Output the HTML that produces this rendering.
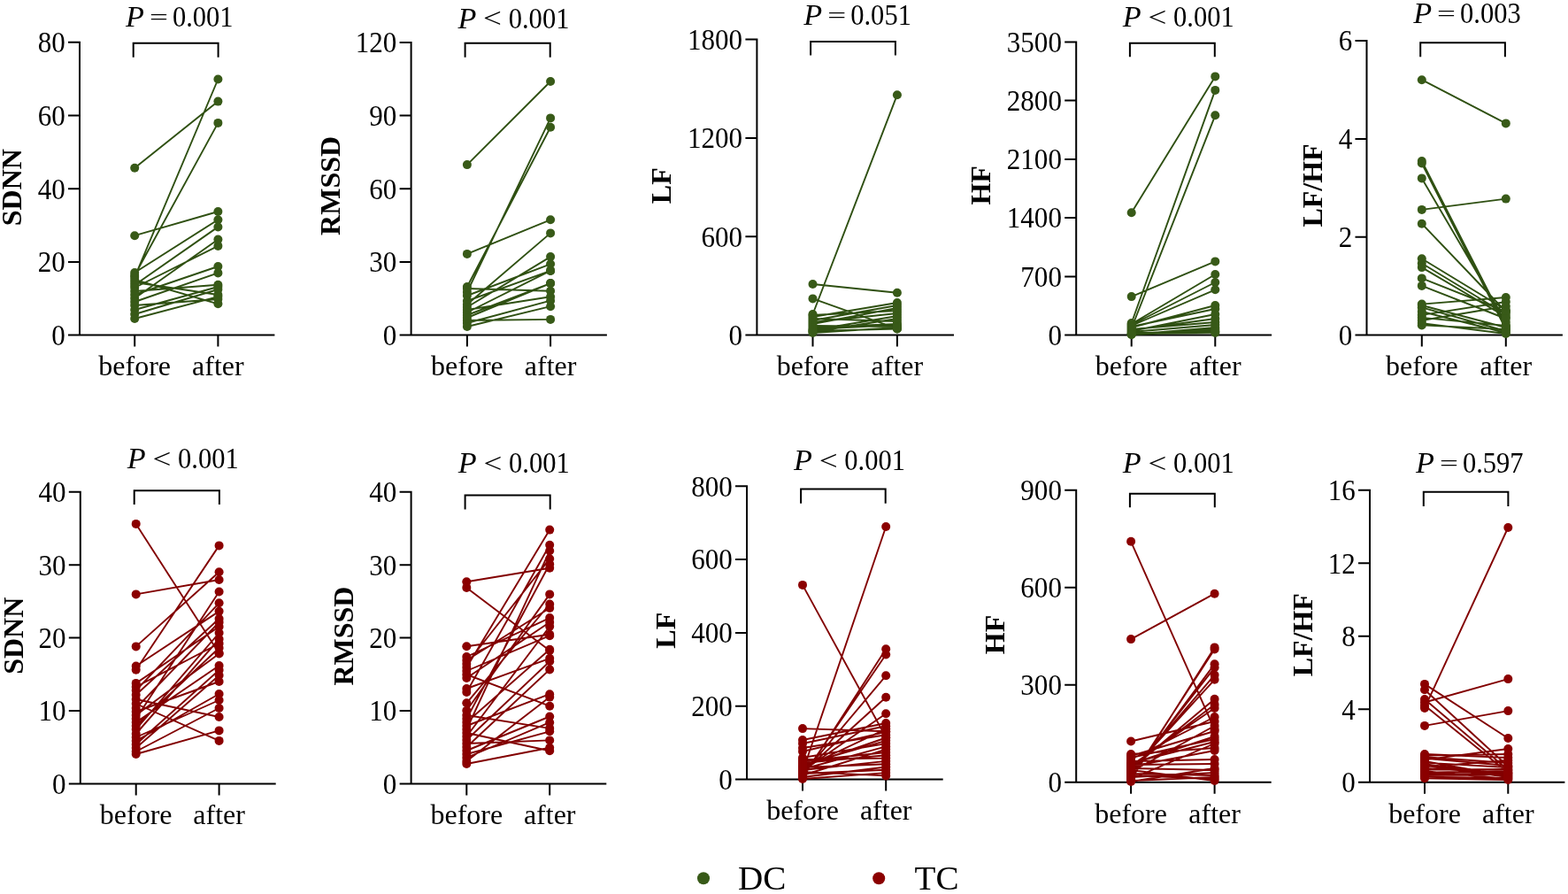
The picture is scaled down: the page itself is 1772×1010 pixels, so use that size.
<!DOCTYPE html><html><head><meta charset="utf-8"><title>HRV before/after</title><style>html,body{margin:0;padding:0;background:#fff;}svg{display:block;}</style></head><body>
<svg width="1772" height="1010" viewBox="0 0 1772 1010" font-family='"Liberation Serif", "Times New Roman", serif'>
<rect width="1772" height="1010" fill="#fff"/>
<g>
<path d="M90 46.7V378.6M77 378.6H310.4M77 378.6H90M77 295.9H90M77 213.2H90M77 130.4H90M77 47.7H90M152.2 378.6V391.6M246.4 378.6V391.6" stroke="#000" stroke-width="2" fill="none"/>
<path d="M152.2 189.8L246.4 114.6M152.2 266.2L246.4 239M152.2 313L246.4 89.5M152.2 311L246.4 138.9M152.2 316L246.4 343.3M152.2 319L246.4 333M152.2 308L246.4 248.2M152.2 322L246.4 256.4M152.2 325L246.4 277.9M152.2 329L246.4 321.7M152.2 333L246.4 301M152.2 337L246.4 270.5M152.2 341L246.4 308.4M152.2 345L246.4 338M152.2 350L246.4 324M152.2 355L246.4 327M152.2 360L246.4 335.1" stroke="#2f5012" stroke-width="1.9" fill="none"/>
<g fill="#385a18"><circle cx="152.2" cy="189.8" r="5"/><circle cx="246.4" cy="114.6" r="5"/><circle cx="152.2" cy="266.2" r="5"/><circle cx="246.4" cy="239" r="5"/><circle cx="152.2" cy="313" r="5"/><circle cx="246.4" cy="89.5" r="5"/><circle cx="152.2" cy="311" r="5"/><circle cx="246.4" cy="138.9" r="5"/><circle cx="152.2" cy="316" r="5"/><circle cx="246.4" cy="343.3" r="5"/><circle cx="152.2" cy="319" r="5"/><circle cx="246.4" cy="333" r="5"/><circle cx="152.2" cy="308" r="5"/><circle cx="246.4" cy="248.2" r="5"/><circle cx="152.2" cy="322" r="5"/><circle cx="246.4" cy="256.4" r="5"/><circle cx="152.2" cy="325" r="5"/><circle cx="246.4" cy="277.9" r="5"/><circle cx="152.2" cy="329" r="5"/><circle cx="246.4" cy="321.7" r="5"/><circle cx="152.2" cy="333" r="5"/><circle cx="246.4" cy="301" r="5"/><circle cx="152.2" cy="337" r="5"/><circle cx="246.4" cy="270.5" r="5"/><circle cx="152.2" cy="341" r="5"/><circle cx="246.4" cy="308.4" r="5"/><circle cx="152.2" cy="345" r="5"/><circle cx="246.4" cy="338" r="5"/><circle cx="152.2" cy="350" r="5"/><circle cx="246.4" cy="324" r="5"/><circle cx="152.2" cy="355" r="5"/><circle cx="246.4" cy="327" r="5"/><circle cx="152.2" cy="360" r="5"/><circle cx="246.4" cy="335.1" r="5"/></g>
<text transform="translate(73.7 389.9) scale(0.97 1.06)" font-size="32" text-anchor="end">0</text>
<text transform="translate(73.7 307.2) scale(0.97 1.06)" font-size="32" text-anchor="end">20</text>
<text transform="translate(73.7 224.5) scale(0.97 1.06)" font-size="32" text-anchor="end">40</text>
<text transform="translate(73.7 141.7) scale(0.97 1.06)" font-size="32" text-anchor="end">60</text>
<text transform="translate(73.7 59) scale(0.97 1.06)" font-size="32" text-anchor="end">80</text>
<text x="152.2" y="424.4" font-size="32" text-anchor="middle">before</text>
<text x="246.4" y="424.4" font-size="32" text-anchor="middle">after</text>
<path d="M150.7 64.7V48.8H246.6V64.7" stroke="#000" stroke-width="2" fill="none"/>
<text transform="translate(142 29.8) scale(1.07)" font-size="32" font-style="italic">P</text>
<text transform="translate(168.9 19.7) scale(1.16 0.76)" y="10.6" font-size="32">=</text>
<text transform="translate(194.9 29.8) scale(0.955 1.06)" font-size="32">0.001</text>
<text transform="translate(13.3 211.7) rotate(-90)" font-size="32" font-weight="bold" text-anchor="middle" dominant-baseline="central">SDNN</text>
</g>
<g>
<path d="M464.6 46.9V378.6M451.6 378.6H685.9M451.6 378.6H464.6M451.6 295.9H464.6M451.6 213.2H464.6M451.6 130.6H464.6M451.6 47.9H464.6M527.9 378.6V391.6M622.1 378.6V391.6" stroke="#000" stroke-width="2" fill="none"/>
<path d="M527.9 186.1L622.1 92M527.9 286.9L622.1 248.3M527.9 324L622.1 143.8M527.9 326L622.1 328.8M527.9 330L622.1 133.4M527.9 362L622.1 360.9M527.9 334L622.1 298.3M527.9 340L622.1 305.9M527.9 344L622.1 263.4M527.9 347L622.1 290.1M527.9 350L622.1 335.3M527.9 353L622.1 305.9M527.9 356L622.1 320.1M527.9 359L622.1 320.1M527.9 365L622.1 339.7M527.9 369L622.1 346.2" stroke="#2f5012" stroke-width="1.9" fill="none"/>
<g fill="#385a18"><circle cx="527.9" cy="186.1" r="5"/><circle cx="622.1" cy="92" r="5"/><circle cx="527.9" cy="286.9" r="5"/><circle cx="622.1" cy="248.3" r="5"/><circle cx="527.9" cy="324" r="5"/><circle cx="622.1" cy="143.8" r="5"/><circle cx="527.9" cy="326" r="5"/><circle cx="622.1" cy="328.8" r="5"/><circle cx="527.9" cy="330" r="5"/><circle cx="622.1" cy="133.4" r="5"/><circle cx="527.9" cy="362" r="5"/><circle cx="622.1" cy="360.9" r="5"/><circle cx="527.9" cy="334" r="5"/><circle cx="622.1" cy="298.3" r="5"/><circle cx="527.9" cy="340" r="5"/><circle cx="622.1" cy="305.9" r="5"/><circle cx="527.9" cy="344" r="5"/><circle cx="622.1" cy="263.4" r="5"/><circle cx="527.9" cy="347" r="5"/><circle cx="622.1" cy="290.1" r="5"/><circle cx="527.9" cy="350" r="5"/><circle cx="622.1" cy="335.3" r="5"/><circle cx="527.9" cy="353" r="5"/><circle cx="622.1" cy="305.9" r="5"/><circle cx="527.9" cy="356" r="5"/><circle cx="622.1" cy="320.1" r="5"/><circle cx="527.9" cy="359" r="5"/><circle cx="622.1" cy="320.1" r="5"/><circle cx="527.9" cy="365" r="5"/><circle cx="622.1" cy="339.7" r="5"/><circle cx="527.9" cy="369" r="5"/><circle cx="622.1" cy="346.2" r="5"/></g>
<text transform="translate(448.3 389.9) scale(0.97 1.06)" font-size="32" text-anchor="end">0</text>
<text transform="translate(448.3 307.2) scale(0.97 1.06)" font-size="32" text-anchor="end">30</text>
<text transform="translate(448.3 224.6) scale(0.97 1.06)" font-size="32" text-anchor="end">60</text>
<text transform="translate(448.3 141.9) scale(0.97 1.06)" font-size="32" text-anchor="end">90</text>
<text transform="translate(448.3 59.2) scale(0.97 1.06)" font-size="32" text-anchor="end">120</text>
<text x="527.9" y="424.4" font-size="32" text-anchor="middle">before</text>
<text x="622.1" y="424.4" font-size="32" text-anchor="middle">after</text>
<path d="M525.6 64.7V48.8H621.7V64.7" stroke="#000" stroke-width="2" fill="none"/>
<text transform="translate(517.4 31.8) scale(1.07)" font-size="32" font-style="italic">P</text>
<text transform="translate(546.1 21.1) scale(1.16 0.97)" y="10.6" font-size="32">&lt;</text>
<text transform="translate(574.7 31.8) scale(0.955 1.06)" font-size="32">0.001</text>
<text transform="translate(373.3 209.9) rotate(-90)" font-size="32" font-weight="bold" text-anchor="middle" dominant-baseline="central">RMSSD</text>
</g>
<g>
<path d="M855.4 43.5V378.6M842.4 378.6H1078M842.4 378.6H855.4M842.4 267.2H855.4M842.4 155.9H855.4M842.4 44.5H855.4M918.5 378.6V391.6M1013.9 378.6V391.6" stroke="#000" stroke-width="2" fill="none"/>
<path d="M918.5 321L1013.9 330.7M918.5 337.4L1013.9 371.4M918.5 355L1013.9 107.2M918.5 356L1013.9 351M918.5 358L1013.9 342M918.5 360L1013.9 363M918.5 362L1013.9 345M918.5 364L1013.9 354M918.5 366L1013.9 348M918.5 368L1013.9 369M918.5 370L1013.9 366M918.5 372L1013.9 367M918.5 373L1013.9 357M918.5 374L1013.9 371.5M918.5 375L1013.9 360M918.5 376L1013.9 370" stroke="#2f5012" stroke-width="1.9" fill="none"/>
<g fill="#385a18"><circle cx="918.5" cy="321" r="5"/><circle cx="1013.9" cy="330.7" r="5"/><circle cx="918.5" cy="337.4" r="5"/><circle cx="1013.9" cy="371.4" r="5"/><circle cx="918.5" cy="355" r="5"/><circle cx="1013.9" cy="107.2" r="5"/><circle cx="918.5" cy="356" r="5"/><circle cx="1013.9" cy="351" r="5"/><circle cx="918.5" cy="358" r="5"/><circle cx="1013.9" cy="342" r="5"/><circle cx="918.5" cy="360" r="5"/><circle cx="1013.9" cy="363" r="5"/><circle cx="918.5" cy="362" r="5"/><circle cx="1013.9" cy="345" r="5"/><circle cx="918.5" cy="364" r="5"/><circle cx="1013.9" cy="354" r="5"/><circle cx="918.5" cy="366" r="5"/><circle cx="1013.9" cy="348" r="5"/><circle cx="918.5" cy="368" r="5"/><circle cx="1013.9" cy="369" r="5"/><circle cx="918.5" cy="370" r="5"/><circle cx="1013.9" cy="366" r="5"/><circle cx="918.5" cy="372" r="5"/><circle cx="1013.9" cy="367" r="5"/><circle cx="918.5" cy="373" r="5"/><circle cx="1013.9" cy="357" r="5"/><circle cx="918.5" cy="374" r="5"/><circle cx="1013.9" cy="371.5" r="5"/><circle cx="918.5" cy="375" r="5"/><circle cx="1013.9" cy="360" r="5"/><circle cx="918.5" cy="376" r="5"/><circle cx="1013.9" cy="370" r="5"/></g>
<text transform="translate(839.1 389.9) scale(0.97 1.06)" font-size="32" text-anchor="end">0</text>
<text transform="translate(839.1 278.5) scale(0.97 1.06)" font-size="32" text-anchor="end">600</text>
<text transform="translate(839.1 167.2) scale(0.97 1.06)" font-size="32" text-anchor="end">1200</text>
<text transform="translate(839.1 55.8) scale(0.97 1.06)" font-size="32" text-anchor="end">1800</text>
<text x="918.5" y="424.4" font-size="32" text-anchor="middle">before</text>
<text x="1013.9" y="424.4" font-size="32" text-anchor="middle">after</text>
<path d="M916.1 62.6V46.9H1011.9V62.6" stroke="#000" stroke-width="2" fill="none"/>
<text transform="translate(908.3 28.4) scale(1.07)" font-size="32" font-style="italic">P</text>
<text transform="translate(935.2 18.3) scale(1.16 0.76)" y="10.6" font-size="32">=</text>
<text transform="translate(961.2 28.4) scale(0.955 1.06)" font-size="32">0.051</text>
<text transform="translate(746.8 209.7) rotate(-90)" font-size="32" font-weight="bold" text-anchor="middle" dominant-baseline="central">LF</text>
</g>
<g>
<path d="M1216.2 46.4V378.6M1203.2 378.6H1437.1M1203.2 378.6H1216.2M1203.2 312.4H1216.2M1203.2 246.1H1216.2M1203.2 179.9H1216.2M1203.2 113.6H1216.2M1203.2 47.4H1216.2M1278.7 378.6V391.6M1373.3 378.6V391.6" stroke="#000" stroke-width="2" fill="none"/>
<path d="M1278.7 240.3L1373.3 86.4M1278.7 335.1L1373.3 295.4M1278.7 365L1373.3 101.9M1278.7 371L1373.3 130.3M1278.7 366L1373.3 310M1278.7 367L1373.3 319M1278.7 368L1373.3 327.3M1278.7 369L1373.3 349M1278.7 370L1373.3 345M1278.7 372L1373.3 364M1278.7 373L1373.3 360M1278.7 374L1373.3 355M1278.7 375L1373.3 367M1278.7 376L1373.3 375M1278.7 377L1373.3 376M1278.7 377L1373.3 372M1278.7 378L1373.3 370M1278.7 378L1373.3 374" stroke="#2f5012" stroke-width="1.9" fill="none"/>
<g fill="#385a18"><circle cx="1278.7" cy="240.3" r="5"/><circle cx="1373.3" cy="86.4" r="5"/><circle cx="1278.7" cy="335.1" r="5"/><circle cx="1373.3" cy="295.4" r="5"/><circle cx="1278.7" cy="365" r="5"/><circle cx="1373.3" cy="101.9" r="5"/><circle cx="1278.7" cy="371" r="5"/><circle cx="1373.3" cy="130.3" r="5"/><circle cx="1278.7" cy="366" r="5"/><circle cx="1373.3" cy="310" r="5"/><circle cx="1278.7" cy="367" r="5"/><circle cx="1373.3" cy="319" r="5"/><circle cx="1278.7" cy="368" r="5"/><circle cx="1373.3" cy="327.3" r="5"/><circle cx="1278.7" cy="369" r="5"/><circle cx="1373.3" cy="349" r="5"/><circle cx="1278.7" cy="370" r="5"/><circle cx="1373.3" cy="345" r="5"/><circle cx="1278.7" cy="372" r="5"/><circle cx="1373.3" cy="364" r="5"/><circle cx="1278.7" cy="373" r="5"/><circle cx="1373.3" cy="360" r="5"/><circle cx="1278.7" cy="374" r="5"/><circle cx="1373.3" cy="355" r="5"/><circle cx="1278.7" cy="375" r="5"/><circle cx="1373.3" cy="367" r="5"/><circle cx="1278.7" cy="376" r="5"/><circle cx="1373.3" cy="375" r="5"/><circle cx="1278.7" cy="377" r="5"/><circle cx="1373.3" cy="376" r="5"/><circle cx="1278.7" cy="377" r="5"/><circle cx="1373.3" cy="372" r="5"/><circle cx="1278.7" cy="378" r="5"/><circle cx="1373.3" cy="370" r="5"/><circle cx="1278.7" cy="378" r="5"/><circle cx="1373.3" cy="374" r="5"/></g>
<text transform="translate(1199.9 389.9) scale(0.97 1.06)" font-size="32" text-anchor="end">0</text>
<text transform="translate(1199.9 323.7) scale(0.97 1.06)" font-size="32" text-anchor="end">700</text>
<text transform="translate(1199.9 257.4) scale(0.97 1.06)" font-size="32" text-anchor="end">1400</text>
<text transform="translate(1199.9 191.2) scale(0.97 1.06)" font-size="32" text-anchor="end">2100</text>
<text transform="translate(1199.9 124.9) scale(0.97 1.06)" font-size="32" text-anchor="end">2800</text>
<text transform="translate(1199.9 58.7) scale(0.97 1.06)" font-size="32" text-anchor="end">3500</text>
<text x="1278.7" y="424.4" font-size="32" text-anchor="middle">before</text>
<text x="1373.3" y="424.4" font-size="32" text-anchor="middle">after</text>
<path d="M1276.9 64.3V48.8H1372.8V64.3" stroke="#000" stroke-width="2" fill="none"/>
<text transform="translate(1268.8 30.1) scale(1.07)" font-size="32" font-style="italic">P</text>
<text transform="translate(1297.5 19.4) scale(1.16 0.97)" y="10.6" font-size="32">&lt;</text>
<text transform="translate(1326.1 30.1) scale(0.955 1.06)" font-size="32">0.001</text>
<text transform="translate(1107.5 209.4) rotate(-90)" font-size="32" font-weight="bold" text-anchor="middle" dominant-baseline="central">HF</text>
</g>
<g>
<path d="M1544.5 45V378.6M1531.5 378.6H1765.9M1531.5 378.6H1544.5M1531.5 267.7H1544.5M1531.5 156.9H1544.5M1531.5 46H1544.5M1606.8 378.6V391.6M1701.8 378.6V391.6" stroke="#000" stroke-width="2" fill="none"/>
<path d="M1606.8 90.2L1701.8 139.4M1606.8 182L1701.8 368M1606.8 184.5L1701.8 372M1606.8 201.4L1701.8 364M1606.8 236.9L1701.8 224.6M1606.8 252.7L1701.8 352M1606.8 292.2L1701.8 350M1606.8 297.5L1701.8 355M1606.8 302.1L1701.8 358M1606.8 314.4L1701.8 352M1606.8 322.9L1701.8 360M1606.8 343.6L1701.8 336M1606.8 347.4L1701.8 374M1606.8 355.9L1701.8 341M1606.8 358.9L1701.8 368M1606.8 365.1L1701.8 377M1606.8 367.4L1701.8 372M1606.8 345L1701.8 370M1606.8 362L1701.8 346M1606.8 352L1701.8 376" stroke="#2f5012" stroke-width="1.9" fill="none"/>
<g fill="#385a18"><circle cx="1606.8" cy="90.2" r="5"/><circle cx="1701.8" cy="139.4" r="5"/><circle cx="1606.8" cy="182" r="5"/><circle cx="1701.8" cy="368" r="5"/><circle cx="1606.8" cy="184.5" r="5"/><circle cx="1701.8" cy="372" r="5"/><circle cx="1606.8" cy="201.4" r="5"/><circle cx="1701.8" cy="364" r="5"/><circle cx="1606.8" cy="236.9" r="5"/><circle cx="1701.8" cy="224.6" r="5"/><circle cx="1606.8" cy="252.7" r="5"/><circle cx="1701.8" cy="352" r="5"/><circle cx="1606.8" cy="292.2" r="5"/><circle cx="1701.8" cy="350" r="5"/><circle cx="1606.8" cy="297.5" r="5"/><circle cx="1701.8" cy="355" r="5"/><circle cx="1606.8" cy="302.1" r="5"/><circle cx="1701.8" cy="358" r="5"/><circle cx="1606.8" cy="314.4" r="5"/><circle cx="1701.8" cy="352" r="5"/><circle cx="1606.8" cy="322.9" r="5"/><circle cx="1701.8" cy="360" r="5"/><circle cx="1606.8" cy="343.6" r="5"/><circle cx="1701.8" cy="336" r="5"/><circle cx="1606.8" cy="347.4" r="5"/><circle cx="1701.8" cy="374" r="5"/><circle cx="1606.8" cy="355.9" r="5"/><circle cx="1701.8" cy="341" r="5"/><circle cx="1606.8" cy="358.9" r="5"/><circle cx="1701.8" cy="368" r="5"/><circle cx="1606.8" cy="365.1" r="5"/><circle cx="1701.8" cy="377" r="5"/><circle cx="1606.8" cy="367.4" r="5"/><circle cx="1701.8" cy="372" r="5"/><circle cx="1606.8" cy="345" r="5"/><circle cx="1701.8" cy="370" r="5"/><circle cx="1606.8" cy="362" r="5"/><circle cx="1701.8" cy="346" r="5"/><circle cx="1606.8" cy="352" r="5"/><circle cx="1701.8" cy="376" r="5"/></g>
<text transform="translate(1528.2 389.9) scale(0.97 1.06)" font-size="32" text-anchor="end">0</text>
<text transform="translate(1528.2 279) scale(0.97 1.06)" font-size="32" text-anchor="end">2</text>
<text transform="translate(1528.2 168.2) scale(0.97 1.06)" font-size="32" text-anchor="end">4</text>
<text transform="translate(1528.2 57.3) scale(0.97 1.06)" font-size="32" text-anchor="end">6</text>
<text x="1606.8" y="424.4" font-size="32" text-anchor="middle">before</text>
<text x="1701.8" y="424.4" font-size="32" text-anchor="middle">after</text>
<path d="M1605.2 64.3V48.2H1700.9V64.3" stroke="#000" stroke-width="2" fill="none"/>
<text transform="translate(1597.2 26.2) scale(1.07)" font-size="32" font-style="italic">P</text>
<text transform="translate(1624.1 16.1) scale(1.16 0.76)" y="10.6" font-size="32">=</text>
<text transform="translate(1650.1 26.2) scale(0.955 1.06)" font-size="32">0.003</text>
<text transform="translate(1482.9 209.5) rotate(-90)" font-size="32" font-weight="bold" text-anchor="middle" dominant-baseline="central">LF/HF</text>
</g>
<g>
<path d="M90.8 554.7V885.5M77.8 885.5H311.7M77.8 885.5H90.8M77.8 803H90.8M77.8 720.6H90.8M77.8 638.2H90.8M77.8 555.7H90.8M153.7 885.5V898.5M247.6 885.5V898.5" stroke="#000" stroke-width="2" fill="none"/>
<path d="M153.7 591.9L247.6 738M153.7 671.4L247.6 655M153.7 730.4L247.6 646.3M153.7 752.5L247.6 690.6M153.7 756.7L247.6 616.4M153.7 771.9L247.6 708M153.7 776L247.6 727M153.7 780L247.6 681.3M153.7 785L247.6 699M153.7 790L247.6 810M153.7 795L247.6 836.9M153.7 800L247.6 703M153.7 804L247.6 770M153.7 808L247.6 738.5M153.7 812L247.6 668.5M153.7 816L247.6 752M153.7 820L247.6 732M153.7 824L247.6 715M153.7 829L247.6 722M153.7 833L247.6 791M153.7 837L247.6 784M153.7 841L247.6 757M153.7 845L247.6 763M153.7 849L247.6 800M153.7 852L247.6 825.4" stroke="#820000" stroke-width="1.9" fill="none"/>
<g fill="#8b0000"><circle cx="153.7" cy="591.9" r="5"/><circle cx="247.6" cy="738" r="5"/><circle cx="153.7" cy="671.4" r="5"/><circle cx="247.6" cy="655" r="5"/><circle cx="153.7" cy="730.4" r="5"/><circle cx="247.6" cy="646.3" r="5"/><circle cx="153.7" cy="752.5" r="5"/><circle cx="247.6" cy="690.6" r="5"/><circle cx="153.7" cy="756.7" r="5"/><circle cx="247.6" cy="616.4" r="5"/><circle cx="153.7" cy="771.9" r="5"/><circle cx="247.6" cy="708" r="5"/><circle cx="153.7" cy="776" r="5"/><circle cx="247.6" cy="727" r="5"/><circle cx="153.7" cy="780" r="5"/><circle cx="247.6" cy="681.3" r="5"/><circle cx="153.7" cy="785" r="5"/><circle cx="247.6" cy="699" r="5"/><circle cx="153.7" cy="790" r="5"/><circle cx="247.6" cy="810" r="5"/><circle cx="153.7" cy="795" r="5"/><circle cx="247.6" cy="836.9" r="5"/><circle cx="153.7" cy="800" r="5"/><circle cx="247.6" cy="703" r="5"/><circle cx="153.7" cy="804" r="5"/><circle cx="247.6" cy="770" r="5"/><circle cx="153.7" cy="808" r="5"/><circle cx="247.6" cy="738.5" r="5"/><circle cx="153.7" cy="812" r="5"/><circle cx="247.6" cy="668.5" r="5"/><circle cx="153.7" cy="816" r="5"/><circle cx="247.6" cy="752" r="5"/><circle cx="153.7" cy="820" r="5"/><circle cx="247.6" cy="732" r="5"/><circle cx="153.7" cy="824" r="5"/><circle cx="247.6" cy="715" r="5"/><circle cx="153.7" cy="829" r="5"/><circle cx="247.6" cy="722" r="5"/><circle cx="153.7" cy="833" r="5"/><circle cx="247.6" cy="791" r="5"/><circle cx="153.7" cy="837" r="5"/><circle cx="247.6" cy="784" r="5"/><circle cx="153.7" cy="841" r="5"/><circle cx="247.6" cy="757" r="5"/><circle cx="153.7" cy="845" r="5"/><circle cx="247.6" cy="763" r="5"/><circle cx="153.7" cy="849" r="5"/><circle cx="247.6" cy="800" r="5"/><circle cx="153.7" cy="852" r="5"/><circle cx="247.6" cy="825.4" r="5"/></g>
<text transform="translate(74.5 896.8) scale(0.97 1.06)" font-size="32" text-anchor="end">0</text>
<text transform="translate(74.5 814.3) scale(0.97 1.06)" font-size="32" text-anchor="end">10</text>
<text transform="translate(74.5 731.9) scale(0.97 1.06)" font-size="32" text-anchor="end">20</text>
<text transform="translate(74.5 649.5) scale(0.97 1.06)" font-size="32" text-anchor="end">30</text>
<text transform="translate(74.5 567) scale(0.97 1.06)" font-size="32" text-anchor="end">40</text>
<text x="153.7" y="931.3" font-size="32" text-anchor="middle">before</text>
<text x="247.6" y="931.3" font-size="32" text-anchor="middle">after</text>
<path d="M151.7 569.9V554.3H247.9V569.9" stroke="#000" stroke-width="2" fill="none"/>
<text transform="translate(143.8 529.3) scale(1.07)" font-size="32" font-style="italic">P</text>
<text transform="translate(172.5 518.6) scale(1.16 0.97)" y="10.6" font-size="32">&lt;</text>
<text transform="translate(201.1 529.3) scale(0.955 1.06)" font-size="32">0.001</text>
<text transform="translate(14.8 718.3) rotate(-90)" font-size="32" font-weight="bold" text-anchor="middle" dominant-baseline="central">SDNN</text>
</g>
<g>
<path d="M464.6 554.7V885.5M451.6 885.5H685.3M451.6 885.5H464.6M451.6 803H464.6M451.6 720.6H464.6M451.6 638.2H464.6M451.6 555.7H464.6M527.3 885.5V898.5M621.2 885.5V898.5" stroke="#000" stroke-width="2" fill="none"/>
<path d="M527.3 657.3L621.2 641.7M527.3 663.9L621.2 735M527.3 730.3L621.2 716.8M527.3 742L621.2 698.1M527.3 746L621.2 687M527.3 750L621.2 631.3M527.3 754L621.2 598.6M527.3 758L621.2 718.2M527.3 762L621.2 797.7M527.3 766L621.2 703M527.3 778L621.2 743.8M527.3 782L621.2 615.7M527.3 794.3L621.2 682.5M527.3 802.7L621.2 671.4M527.3 808L621.2 822.9M527.3 812L621.2 637.2M527.3 816L621.2 733.7M527.3 820L621.2 784.2M527.3 824L621.2 622.3M527.3 828L621.2 848.2M527.3 832L621.2 707.8M527.3 836L621.2 747.2M527.3 840L621.2 836.4M527.3 844L621.2 756.4M527.3 848L621.2 809.5M527.3 852L621.2 826.3M527.3 856L621.2 816.2M527.3 860L621.2 787.6M527.3 863L621.2 844.8" stroke="#820000" stroke-width="1.9" fill="none"/>
<g fill="#8b0000"><circle cx="527.3" cy="657.3" r="5"/><circle cx="621.2" cy="641.7" r="5"/><circle cx="527.3" cy="663.9" r="5"/><circle cx="621.2" cy="735" r="5"/><circle cx="527.3" cy="730.3" r="5"/><circle cx="621.2" cy="716.8" r="5"/><circle cx="527.3" cy="742" r="5"/><circle cx="621.2" cy="698.1" r="5"/><circle cx="527.3" cy="746" r="5"/><circle cx="621.2" cy="687" r="5"/><circle cx="527.3" cy="750" r="5"/><circle cx="621.2" cy="631.3" r="5"/><circle cx="527.3" cy="754" r="5"/><circle cx="621.2" cy="598.6" r="5"/><circle cx="527.3" cy="758" r="5"/><circle cx="621.2" cy="718.2" r="5"/><circle cx="527.3" cy="762" r="5"/><circle cx="621.2" cy="797.7" r="5"/><circle cx="527.3" cy="766" r="5"/><circle cx="621.2" cy="703" r="5"/><circle cx="527.3" cy="778" r="5"/><circle cx="621.2" cy="743.8" r="5"/><circle cx="527.3" cy="782" r="5"/><circle cx="621.2" cy="615.7" r="5"/><circle cx="527.3" cy="794.3" r="5"/><circle cx="621.2" cy="682.5" r="5"/><circle cx="527.3" cy="802.7" r="5"/><circle cx="621.2" cy="671.4" r="5"/><circle cx="527.3" cy="808" r="5"/><circle cx="621.2" cy="822.9" r="5"/><circle cx="527.3" cy="812" r="5"/><circle cx="621.2" cy="637.2" r="5"/><circle cx="527.3" cy="816" r="5"/><circle cx="621.2" cy="733.7" r="5"/><circle cx="527.3" cy="820" r="5"/><circle cx="621.2" cy="784.2" r="5"/><circle cx="527.3" cy="824" r="5"/><circle cx="621.2" cy="622.3" r="5"/><circle cx="527.3" cy="828" r="5"/><circle cx="621.2" cy="848.2" r="5"/><circle cx="527.3" cy="832" r="5"/><circle cx="621.2" cy="707.8" r="5"/><circle cx="527.3" cy="836" r="5"/><circle cx="621.2" cy="747.2" r="5"/><circle cx="527.3" cy="840" r="5"/><circle cx="621.2" cy="836.4" r="5"/><circle cx="527.3" cy="844" r="5"/><circle cx="621.2" cy="756.4" r="5"/><circle cx="527.3" cy="848" r="5"/><circle cx="621.2" cy="809.5" r="5"/><circle cx="527.3" cy="852" r="5"/><circle cx="621.2" cy="826.3" r="5"/><circle cx="527.3" cy="856" r="5"/><circle cx="621.2" cy="816.2" r="5"/><circle cx="527.3" cy="860" r="5"/><circle cx="621.2" cy="787.6" r="5"/><circle cx="527.3" cy="863" r="5"/><circle cx="621.2" cy="844.8" r="5"/></g>
<text transform="translate(448.3 896.8) scale(0.97 1.06)" font-size="32" text-anchor="end">0</text>
<text transform="translate(448.3 814.3) scale(0.97 1.06)" font-size="32" text-anchor="end">10</text>
<text transform="translate(448.3 731.9) scale(0.97 1.06)" font-size="32" text-anchor="end">20</text>
<text transform="translate(448.3 649.5) scale(0.97 1.06)" font-size="32" text-anchor="end">30</text>
<text transform="translate(448.3 567) scale(0.97 1.06)" font-size="32" text-anchor="end">40</text>
<text x="527.3" y="931.3" font-size="32" text-anchor="middle">before</text>
<text x="621.2" y="931.3" font-size="32" text-anchor="middle">after</text>
<path d="M525.6 575.5V559.4H621.7V575.5" stroke="#000" stroke-width="2" fill="none"/>
<text transform="translate(517.7 534.4) scale(1.07)" font-size="32" font-style="italic">P</text>
<text transform="translate(546.4 523.7) scale(1.16 0.97)" y="10.6" font-size="32">&lt;</text>
<text transform="translate(575 534.4) scale(0.955 1.06)" font-size="32">0.001</text>
<text transform="translate(387.7 718.6) rotate(-90)" font-size="32" font-weight="bold" text-anchor="middle" dominant-baseline="central">RMSSD</text>
</g>
<g>
<path d="M844 548.3V880.6M831 880.6H1065.7M831 880.6H844M831 797.8H844M831 715H844M831 632.1H844M831 549.3H844M907 880.6V893.6M1001.2 880.6V893.6" stroke="#000" stroke-width="2" fill="none"/>
<path d="M907 660.9L1001.2 833M907 872L1001.2 595M907 823.1L1001.2 826.3M907 879L1001.2 733.3M907 877L1001.2 739.5M907 875L1001.2 763.3M907 873L1001.2 787.7M907 871L1001.2 806.3M907 836L1001.2 817M907 840L1001.2 820.3M907 845L1001.2 830.2M907 849L1001.2 826.9M907 856L1001.2 840.1M907 858L1001.2 856.6M907 860L1001.2 850M907 862L1001.2 853.3M907 864L1001.2 836.8M907 866L1001.2 833.5M907 867L1001.2 863.2M907 868L1001.2 823.6M907 869L1001.2 843.4M907 870L1001.2 859.9M907 872L1001.2 876.4M907 874L1001.2 869.8M907 876L1001.2 846.7M907 878L1001.2 866.5M907 880L1001.2 873.1" stroke="#820000" stroke-width="1.9" fill="none"/>
<g fill="#8b0000"><circle cx="907" cy="660.9" r="5"/><circle cx="1001.2" cy="833" r="5"/><circle cx="907" cy="872" r="5"/><circle cx="1001.2" cy="595" r="5"/><circle cx="907" cy="823.1" r="5"/><circle cx="1001.2" cy="826.3" r="5"/><circle cx="907" cy="879" r="5"/><circle cx="1001.2" cy="733.3" r="5"/><circle cx="907" cy="877" r="5"/><circle cx="1001.2" cy="739.5" r="5"/><circle cx="907" cy="875" r="5"/><circle cx="1001.2" cy="763.3" r="5"/><circle cx="907" cy="873" r="5"/><circle cx="1001.2" cy="787.7" r="5"/><circle cx="907" cy="871" r="5"/><circle cx="1001.2" cy="806.3" r="5"/><circle cx="907" cy="836" r="5"/><circle cx="1001.2" cy="817" r="5"/><circle cx="907" cy="840" r="5"/><circle cx="1001.2" cy="820.3" r="5"/><circle cx="907" cy="845" r="5"/><circle cx="1001.2" cy="830.2" r="5"/><circle cx="907" cy="849" r="5"/><circle cx="1001.2" cy="826.9" r="5"/><circle cx="907" cy="856" r="5"/><circle cx="1001.2" cy="840.1" r="5"/><circle cx="907" cy="858" r="5"/><circle cx="1001.2" cy="856.6" r="5"/><circle cx="907" cy="860" r="5"/><circle cx="1001.2" cy="850" r="5"/><circle cx="907" cy="862" r="5"/><circle cx="1001.2" cy="853.3" r="5"/><circle cx="907" cy="864" r="5"/><circle cx="1001.2" cy="836.8" r="5"/><circle cx="907" cy="866" r="5"/><circle cx="1001.2" cy="833.5" r="5"/><circle cx="907" cy="867" r="5"/><circle cx="1001.2" cy="863.2" r="5"/><circle cx="907" cy="868" r="5"/><circle cx="1001.2" cy="823.6" r="5"/><circle cx="907" cy="869" r="5"/><circle cx="1001.2" cy="843.4" r="5"/><circle cx="907" cy="870" r="5"/><circle cx="1001.2" cy="859.9" r="5"/><circle cx="907" cy="872" r="5"/><circle cx="1001.2" cy="876.4" r="5"/><circle cx="907" cy="874" r="5"/><circle cx="1001.2" cy="869.8" r="5"/><circle cx="907" cy="876" r="5"/><circle cx="1001.2" cy="846.7" r="5"/><circle cx="907" cy="878" r="5"/><circle cx="1001.2" cy="866.5" r="5"/><circle cx="907" cy="880" r="5"/><circle cx="1001.2" cy="873.1" r="5"/></g>
<text transform="translate(827.7 891.9) scale(0.97 1.06)" font-size="32" text-anchor="end">0</text>
<text transform="translate(827.7 809.1) scale(0.97 1.06)" font-size="32" text-anchor="end">200</text>
<text transform="translate(827.7 726.2) scale(0.97 1.06)" font-size="32" text-anchor="end">400</text>
<text transform="translate(827.7 643.4) scale(0.97 1.06)" font-size="32" text-anchor="end">600</text>
<text transform="translate(827.7 560.6) scale(0.97 1.06)" font-size="32" text-anchor="end">800</text>
<text x="907" y="926.2" font-size="32" text-anchor="middle">before</text>
<text x="1001.2" y="926.2" font-size="32" text-anchor="middle">after</text>
<path d="M905.1 568.7V552.6H1000.7V568.7" stroke="#000" stroke-width="2" fill="none"/>
<text transform="translate(897 531) scale(1.07)" font-size="32" font-style="italic">P</text>
<text transform="translate(925.7 520.3) scale(1.16 0.97)" y="10.6" font-size="32">&lt;</text>
<text transform="translate(954.3 531) scale(0.955 1.06)" font-size="32">0.001</text>
<text transform="translate(752.3 712.2) rotate(-90)" font-size="32" font-weight="bold" text-anchor="middle" dominant-baseline="central">LF</text>
</g>
<g>
<path d="M1216.2 552.8V883.7M1203.2 883.7H1436.7M1203.2 883.7H1216.2M1203.2 773.7H1216.2M1203.2 663.8H1216.2M1203.2 553.8H1216.2M1278.1 883.7V896.7M1372.6 883.7V896.7" stroke="#000" stroke-width="2" fill="none"/>
<path d="M1278.1 611.8L1372.6 824M1278.1 722.1L1372.6 670.7M1278.1 881L1372.6 731.4M1278.1 879L1372.6 733.5M1278.1 877L1372.6 750.2M1278.1 875L1372.6 754.3M1278.1 873L1372.6 762.6M1278.1 871L1372.6 767.8M1278.1 869L1372.6 789.7M1278.1 867L1372.6 795.9M1278.1 865L1372.6 800M1278.1 837.5L1372.6 815M1278.1 852L1372.6 845M1278.1 854L1372.6 826M1278.1 856L1372.6 835M1278.1 858L1372.6 810M1278.1 860L1372.6 858M1278.1 862L1372.6 838M1278.1 863L1372.6 832M1278.1 864L1372.6 863M1278.1 866L1372.6 848M1278.1 868L1372.6 870M1278.1 870L1372.6 882M1278.1 872L1372.6 820M1278.1 874L1372.6 876M1278.1 876L1372.6 880M1278.1 878L1372.6 873M1278.1 880L1372.6 840M1278.1 882L1372.6 878M1278.1 883L1372.6 868" stroke="#820000" stroke-width="1.9" fill="none"/>
<g fill="#8b0000"><circle cx="1278.1" cy="611.8" r="5"/><circle cx="1372.6" cy="824" r="5"/><circle cx="1278.1" cy="722.1" r="5"/><circle cx="1372.6" cy="670.7" r="5"/><circle cx="1278.1" cy="881" r="5"/><circle cx="1372.6" cy="731.4" r="5"/><circle cx="1278.1" cy="879" r="5"/><circle cx="1372.6" cy="733.5" r="5"/><circle cx="1278.1" cy="877" r="5"/><circle cx="1372.6" cy="750.2" r="5"/><circle cx="1278.1" cy="875" r="5"/><circle cx="1372.6" cy="754.3" r="5"/><circle cx="1278.1" cy="873" r="5"/><circle cx="1372.6" cy="762.6" r="5"/><circle cx="1278.1" cy="871" r="5"/><circle cx="1372.6" cy="767.8" r="5"/><circle cx="1278.1" cy="869" r="5"/><circle cx="1372.6" cy="789.7" r="5"/><circle cx="1278.1" cy="867" r="5"/><circle cx="1372.6" cy="795.9" r="5"/><circle cx="1278.1" cy="865" r="5"/><circle cx="1372.6" cy="800" r="5"/><circle cx="1278.1" cy="837.5" r="5"/><circle cx="1372.6" cy="815" r="5"/><circle cx="1278.1" cy="852" r="5"/><circle cx="1372.6" cy="845" r="5"/><circle cx="1278.1" cy="854" r="5"/><circle cx="1372.6" cy="826" r="5"/><circle cx="1278.1" cy="856" r="5"/><circle cx="1372.6" cy="835" r="5"/><circle cx="1278.1" cy="858" r="5"/><circle cx="1372.6" cy="810" r="5"/><circle cx="1278.1" cy="860" r="5"/><circle cx="1372.6" cy="858" r="5"/><circle cx="1278.1" cy="862" r="5"/><circle cx="1372.6" cy="838" r="5"/><circle cx="1278.1" cy="863" r="5"/><circle cx="1372.6" cy="832" r="5"/><circle cx="1278.1" cy="864" r="5"/><circle cx="1372.6" cy="863" r="5"/><circle cx="1278.1" cy="866" r="5"/><circle cx="1372.6" cy="848" r="5"/><circle cx="1278.1" cy="868" r="5"/><circle cx="1372.6" cy="870" r="5"/><circle cx="1278.1" cy="870" r="5"/><circle cx="1372.6" cy="882" r="5"/><circle cx="1278.1" cy="872" r="5"/><circle cx="1372.6" cy="820" r="5"/><circle cx="1278.1" cy="874" r="5"/><circle cx="1372.6" cy="876" r="5"/><circle cx="1278.1" cy="876" r="5"/><circle cx="1372.6" cy="880" r="5"/><circle cx="1278.1" cy="878" r="5"/><circle cx="1372.6" cy="873" r="5"/><circle cx="1278.1" cy="880" r="5"/><circle cx="1372.6" cy="840" r="5"/><circle cx="1278.1" cy="882" r="5"/><circle cx="1372.6" cy="878" r="5"/><circle cx="1278.1" cy="883" r="5"/><circle cx="1372.6" cy="868" r="5"/></g>
<text transform="translate(1199.9 895) scale(0.97 1.06)" font-size="32" text-anchor="end">0</text>
<text transform="translate(1199.9 785) scale(0.97 1.06)" font-size="32" text-anchor="end">300</text>
<text transform="translate(1199.9 675.1) scale(0.97 1.06)" font-size="32" text-anchor="end">600</text>
<text transform="translate(1199.9 565.1) scale(0.97 1.06)" font-size="32" text-anchor="end">900</text>
<text x="1278.1" y="929.8" font-size="32" text-anchor="middle">before</text>
<text x="1372.6" y="929.8" font-size="32" text-anchor="middle">after</text>
<path d="M1276.9 573.3V557.7H1372.8V573.3" stroke="#000" stroke-width="2" fill="none"/>
<text transform="translate(1268.8 534.4) scale(1.07)" font-size="32" font-style="italic">P</text>
<text transform="translate(1297.5 523.7) scale(1.16 0.97)" y="10.6" font-size="32">&lt;</text>
<text transform="translate(1326.1 534.4) scale(0.955 1.06)" font-size="32">0.001</text>
<text transform="translate(1124 717) rotate(-90)" font-size="32" font-weight="bold" text-anchor="middle" dominant-baseline="central">HF</text>
</g>
<g>
<path d="M1548 552.8V883.7M1535 883.7H1768.4M1535 883.7H1548M1535 801.2H1548M1535 718.8H1548M1535 636.3H1548M1535 553.8H1548M1610 883.7V896.7M1704.3 883.7V896.7" stroke="#000" stroke-width="2" fill="none"/>
<path d="M1610 793.5L1704.3 767.1M1610 799.9L1704.3 596M1610 819.9L1704.3 803.1M1610 772.9L1704.3 834M1610 779.3L1704.3 866M1610 797L1704.3 873M1610 790L1704.3 870M1610 852L1704.3 856M1610 853.6L1704.3 852M1610 855.2L1704.3 862M1610 856.8L1704.3 865M1610 858.4L1704.3 846M1610 860L1704.3 877M1610 861.6L1704.3 867M1610 863.2L1704.3 876M1610 864.8L1704.3 878M1610 866.4L1704.3 859M1610 868L1704.3 873M1610 869.6L1704.3 869M1610 871.2L1704.3 880M1610 872.8L1704.3 871M1610 874.4L1704.3 874M1610 876L1704.3 875M1610 877.6L1704.3 879M1610 879.2L1704.3 881" stroke="#820000" stroke-width="1.9" fill="none"/>
<g fill="#8b0000"><circle cx="1610" cy="793.5" r="5"/><circle cx="1704.3" cy="767.1" r="5"/><circle cx="1610" cy="799.9" r="5"/><circle cx="1704.3" cy="596" r="5"/><circle cx="1610" cy="819.9" r="5"/><circle cx="1704.3" cy="803.1" r="5"/><circle cx="1610" cy="772.9" r="5"/><circle cx="1704.3" cy="834" r="5"/><circle cx="1610" cy="779.3" r="5"/><circle cx="1704.3" cy="866" r="5"/><circle cx="1610" cy="797" r="5"/><circle cx="1704.3" cy="873" r="5"/><circle cx="1610" cy="790" r="5"/><circle cx="1704.3" cy="870" r="5"/><circle cx="1610" cy="852" r="5"/><circle cx="1704.3" cy="856" r="5"/><circle cx="1610" cy="853.6" r="5"/><circle cx="1704.3" cy="852" r="5"/><circle cx="1610" cy="855.2" r="5"/><circle cx="1704.3" cy="862" r="5"/><circle cx="1610" cy="856.8" r="5"/><circle cx="1704.3" cy="865" r="5"/><circle cx="1610" cy="858.4" r="5"/><circle cx="1704.3" cy="846" r="5"/><circle cx="1610" cy="860" r="5"/><circle cx="1704.3" cy="877" r="5"/><circle cx="1610" cy="861.6" r="5"/><circle cx="1704.3" cy="867" r="5"/><circle cx="1610" cy="863.2" r="5"/><circle cx="1704.3" cy="876" r="5"/><circle cx="1610" cy="864.8" r="5"/><circle cx="1704.3" cy="878" r="5"/><circle cx="1610" cy="866.4" r="5"/><circle cx="1704.3" cy="859" r="5"/><circle cx="1610" cy="868" r="5"/><circle cx="1704.3" cy="873" r="5"/><circle cx="1610" cy="869.6" r="5"/><circle cx="1704.3" cy="869" r="5"/><circle cx="1610" cy="871.2" r="5"/><circle cx="1704.3" cy="880" r="5"/><circle cx="1610" cy="872.8" r="5"/><circle cx="1704.3" cy="871" r="5"/><circle cx="1610" cy="874.4" r="5"/><circle cx="1704.3" cy="874" r="5"/><circle cx="1610" cy="876" r="5"/><circle cx="1704.3" cy="875" r="5"/><circle cx="1610" cy="877.6" r="5"/><circle cx="1704.3" cy="879" r="5"/><circle cx="1610" cy="879.2" r="5"/><circle cx="1704.3" cy="881" r="5"/></g>
<text transform="translate(1531.7 895) scale(0.97 1.06)" font-size="32" text-anchor="end">0</text>
<text transform="translate(1531.7 812.5) scale(0.97 1.06)" font-size="32" text-anchor="end">4</text>
<text transform="translate(1531.7 730) scale(0.97 1.06)" font-size="32" text-anchor="end">8</text>
<text transform="translate(1531.7 647.6) scale(0.97 1.06)" font-size="32" text-anchor="end">12</text>
<text transform="translate(1531.7 565.1) scale(0.97 1.06)" font-size="32" text-anchor="end">16</text>
<text x="1610" y="929.8" font-size="32" text-anchor="middle">before</text>
<text x="1704.3" y="929.8" font-size="32" text-anchor="middle">after</text>
<path d="M1608.8 572.1V555.7H1704.4V572.1" stroke="#000" stroke-width="2" fill="none"/>
<text transform="translate(1600 534.4) scale(1.07)" font-size="32" font-style="italic">P</text>
<text transform="translate(1626.9 524.3) scale(1.16 0.76)" y="10.6" font-size="32">=</text>
<text transform="translate(1652.9 534.4) scale(0.955 1.06)" font-size="32">0.597</text>
<text transform="translate(1471.6 717.2) rotate(-90)" font-size="32" font-weight="bold" text-anchor="middle" dominant-baseline="central">LF/HF</text>
</g>
<circle cx="795" cy="992.2" r="7" fill="#385a18"/>
<text transform="translate(834 1005.3) scale(1.03 1)" font-size="38">DC</text>
<circle cx="993.2" cy="992.2" r="7" fill="#8b0000"/>
<text transform="translate(1033.5 1005.3) scale(1.03 1)" font-size="38">TC</text>
</svg></body></html>
